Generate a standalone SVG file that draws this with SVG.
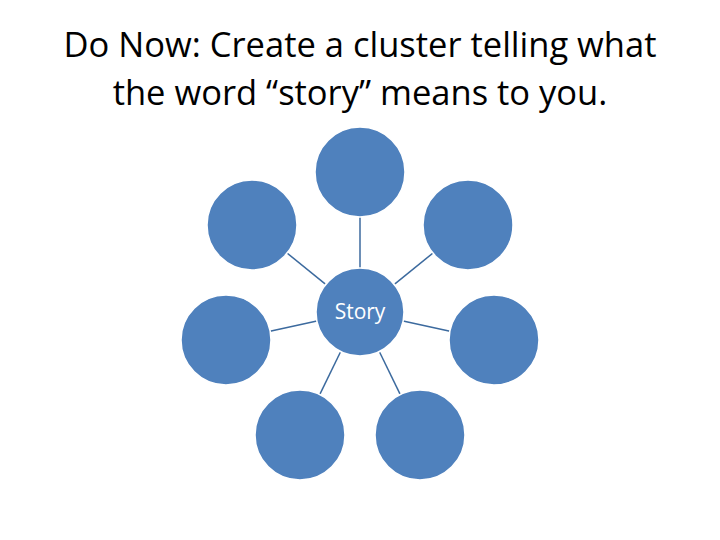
<svg xmlns="http://www.w3.org/2000/svg" width="720" height="540" viewBox="0 0 720 540">
<style>
.n{fill:#4F81BD;stroke:#fff;stroke-width:1.5}
.c line{stroke:#3C6A9E;stroke-width:1.5}
.t{font-family:"Open Sans","Liberation Sans",sans-serif;font-size:34.5px;fill:#000;text-anchor:middle}
</style>
<rect width="720" height="540" fill="#fff"/>
<text class="t" x="360" y="57">Do Now: Create a cluster telling what</text>
<text class="t" x="360" y="105">the word “story” means to you.</text>
<g id="connectors" class="c">
<line x1="360" y1="268" x2="360" y2="217"/>
<line x1="325.7" y1="284.4" x2="287" y2="253"/>
<line x1="394.3" y1="284.4" x2="433" y2="253"/>
<line x1="316.9" y1="321" x2="270" y2="331.2"/>
<line x1="403.1" y1="321" x2="450" y2="331.2"/>
<line x1="340.7" y1="351.5" x2="319.7" y2="394.6"/>
<line x1="379.3" y1="351.5" x2="400.3" y2="394.6"/>
</g>
<g id="story"><circle class="n" cx="360" cy="312" r="44"/><text x="360" y="319" font-family="'Open Sans','Liberation Sans',sans-serif" font-size="21" fill="#fff" text-anchor="middle">Story</text></g>
<g id="top"><circle class="n" cx="360" cy="172" r="45"/></g>
<g id="upper-left"><circle class="n" cx="252" cy="225" r="45"/></g>
<g id="upper-right"><circle class="n" cx="468" cy="225" r="45"/></g>
<g id="left"><circle class="n" cx="226" cy="340" r="45"/></g>
<g id="right"><circle class="n" cx="494" cy="340" r="45"/></g>
<g id="bottom-left"><circle class="n" cx="300" cy="435" r="45"/></g>
<g id="bottom-right"><circle class="n" cx="420" cy="435" r="45"/></g>
</svg>
